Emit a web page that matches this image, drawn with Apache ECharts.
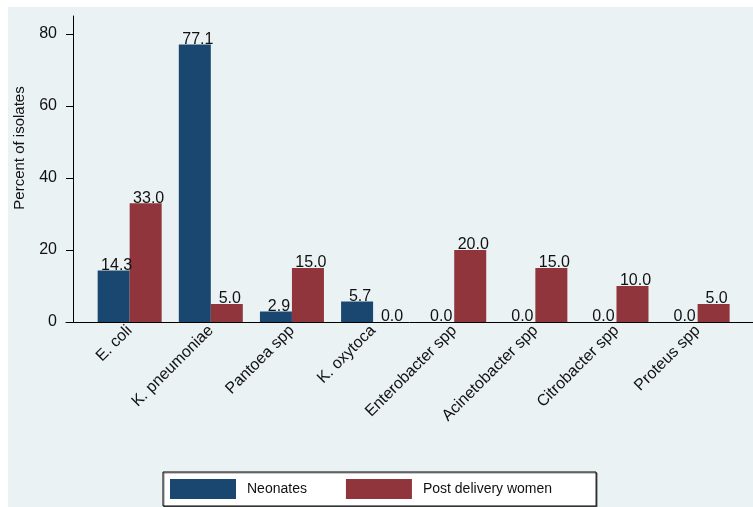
<!DOCTYPE html>
<html>
<head>
<meta charset="utf-8">
<script src="https://cdn.jsdelivr.net/npm/echarts@6/dist/echarts.min.js"></script>
<style>
html,body{margin:0;padding:0;background:#ffffff;}
#chart{width:753px;height:507px;}
</style>
</head>
<body>
<div id="chart"></div>
<script>
const categories = ['E. coli','K. pneumoniae','Pantoea spp','K. oxytoca','Enterobacter spp','Acinetobacter spp','Citrobacter spp','Proteus spp'];
const neonates = [14.3, 77.1, 2.9, 5.7, 0.0, 0.0, 0.0, 0.0];
const postDelivery = [33.0, 5.0, 15.0, 0.0, 20.0, 15.0, 10.0, 5.0];
const yTicks = [0, 20, 40, 60, 80];
const yMax = 85;

const FONT = "'Liberation Sans', Arial, sans-serif";
const chart = echarts.init(document.getElementById('chart'), null, {renderer: 'canvas'});

const labelCfg = {
  show: true,
  position: 'top',
  distance: -3,
  offset: [3, 0],
  color: '#111',
  fontFamily: FONT,
  fontSize: 16,
  formatter: p => p.value.toFixed(1)
};

chart.setOption({
  animation: false,
  backgroundColor: '#ffffff',
  textStyle: {fontFamily: FONT},
  graphic: [
    {type: 'rect', z: -100, silent: true, shape: {x: 8, y: 7, width: 745, height: 500}, style: {fill: '#EAF2F3'}},
    {type: 'text', x: 20, y: 148, rotation: Math.PI / 2, silent: true,
     style: {text: 'Percent of isolates', fontFamily: FONT, fontSize: 15, fill: '#111', align: 'center', verticalAlign: 'middle'}}
  ],
  grid: [
    {left: 66, right: 0, top: 16, height: 306, containLabel: false},
    {left: 89.1, right: 14.8, top: 16, height: 306, containLabel: false}
  ],
  xAxis: [
    {type: 'value', gridIndex: 0, min: 0, max: 1,
     axisLine: {show: true, lineStyle: {color: '#000', width: 1}},
     axisTick: {show: false}, axisLabel: {show: false}, splitLine: {show: false}},
    {type: 'category', gridIndex: 1, data: categories,
     axisLine: {show: false}, axisTick: {show: false}, splitLine: {show: false},
     axisLabel: {rotate: 45, margin: 6, fontSize: 16, color: '#111', fontFamily: FONT, interval: 0}}
  ],
  yAxis: [
    {type: 'value', gridIndex: 0, min: 0, max: yMax, offset: -7,
     axisLine: {show: true, lineStyle: {color: '#000', width: 1}},
     axisTick: {show: true, length: 7, lineStyle: {color: '#000'}, customValues: yTicks},
     axisLabel: {margin: 16, fontSize: 16, color: '#111', fontFamily: FONT, customValues: yTicks},
     splitLine: {show: false}},
    {type: 'value', gridIndex: 1, min: 0, max: yMax, show: false, splitLine: {show: false}}
  ],
  legend: {
    left: 163, top: 472,
    orient: 'horizontal',
    padding: [7, 44, 7, 7],
    itemWidth: 66, itemHeight: 20, itemGap: 39,
    backgroundColor: '#ffffff',
    borderColor: '#000', borderWidth: 1,
    shadowColor: 'rgba(0,0,0,0.45)', shadowOffsetX: 1, shadowOffsetY: 1, shadowBlur: 0,
    textStyle: {fontSize: 14, color: '#111', fontFamily: FONT, padding: [0, 0, 0, 6]},
    icon: 'rect',
    data: ['Neonates', 'Post delivery women']
  },
  series: [
    {name: 'Neonates', type: 'bar', xAxisIndex: 1, yAxisIndex: 1, data: neonates,
     barWidth: 32, barGap: '0%',
     itemStyle: {color: '#1A476F'},
     label: labelCfg},
    {name: 'Post delivery women', type: 'bar', xAxisIndex: 1, yAxisIndex: 1, data: postDelivery,
     barWidth: 32, barGap: '0%',
     itemStyle: {color: '#90353B'},
     label: labelCfg}
  ]
});
</script>
</body>
</html>
